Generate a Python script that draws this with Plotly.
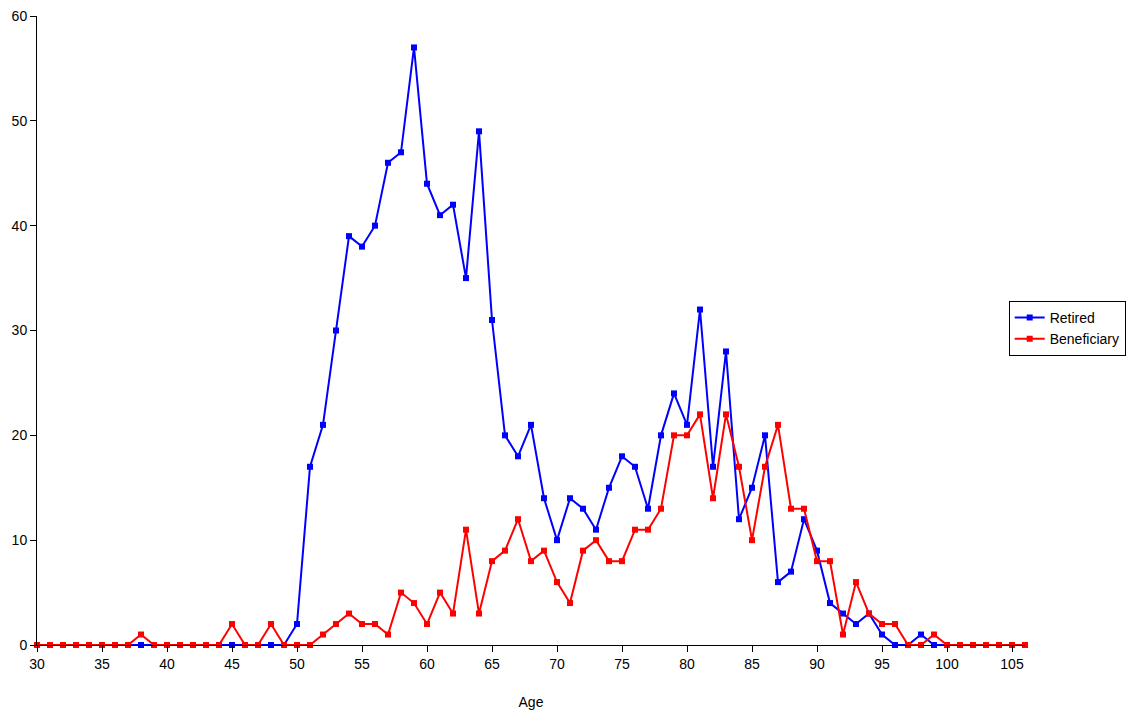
import plotly.graph_objects as go

ages = list(range(30, 107))

retired = [0]*20 + [2, 17, 21, 30, 39, 38, 40, 46, 47, 57,
                    44, 41, 42, 35, 49, 31, 20, 18, 21, 14,
                    10, 14, 13, 11, 15, 18, 17, 13, 20, 24,
                    21, 32, 17, 28, 12, 15, 20, 6, 7, 12,
                    9, 4, 3, 2, 3, 1, 0, 0, 1, 0,
                    0, 0, 0, 0, 0, 0, 0]

beneficiary = [0, 0, 0, 0, 0, 0, 0, 0, 1, 0,
               0, 0, 0, 0, 0, 2, 0, 0, 2, 0,
               0, 0, 1, 2, 3, 2, 2, 1, 5, 4,
               2, 5, 3, 11, 3, 8, 9, 12, 8, 9,
               6, 4, 9, 10, 8, 8, 11, 11, 13, 20,
               20, 22, 14, 22, 17, 10, 17, 21, 13, 13,
               8, 8, 1, 6, 3, 2, 2, 0, 0, 1,
               0, 0, 0, 0, 0, 0, 0]

x_ticks = list(range(30, 106, 5))
y_ticks = list(range(0, 61, 10))

fig = go.Figure()
fig.add_trace(go.Scatter(x=ages, y=retired, name="Retired", mode="lines+markers",
                         line=dict(color="#0000FF", width=2),
                         marker=dict(symbol="square", size=6, color="#0000FF"),
                         cliponaxis=False))
fig.add_trace(go.Scatter(x=ages, y=beneficiary, name="Beneficiary", mode="lines+markers",
                         line=dict(color="#FF0000", width=2),
                         marker=dict(symbol="square", size=6, color="#FF0000"),
                         cliponaxis=False))

fig.update_layout(
    width=1127, height=715,
    margin=dict(l=37, r=102, t=16, b=70, autoexpand=False),
    paper_bgcolor="white", plot_bgcolor="white",
    font=dict(family="Liberation Sans, Arial, sans-serif", size=14, color="black"),
    legend=dict(x=0.9835, y=0.547, xanchor="left", yanchor="top",
                bordercolor="black", borderwidth=1, bgcolor="white",
                font=dict(size=14), itemwidth=30, tracegroupgap=0),
    showlegend=True,
)
fig.update_xaxes(range=[30, 106], tickvals=x_ticks, ticks="outside", ticklen=6,
                 tickcolor="black", showline=True, linecolor="black", linewidth=1,
                 showgrid=False, zeroline=False,
                 title=dict(text="Age", font=dict(size=14), standoff=26))
fig.update_yaxes(range=[0, 60], tickvals=y_ticks, ticks="outside", ticklen=6,
                 tickcolor="black", showline=True, linecolor="black", linewidth=1,
                 showgrid=False, zeroline=False)

fig.write_html("out.html")
